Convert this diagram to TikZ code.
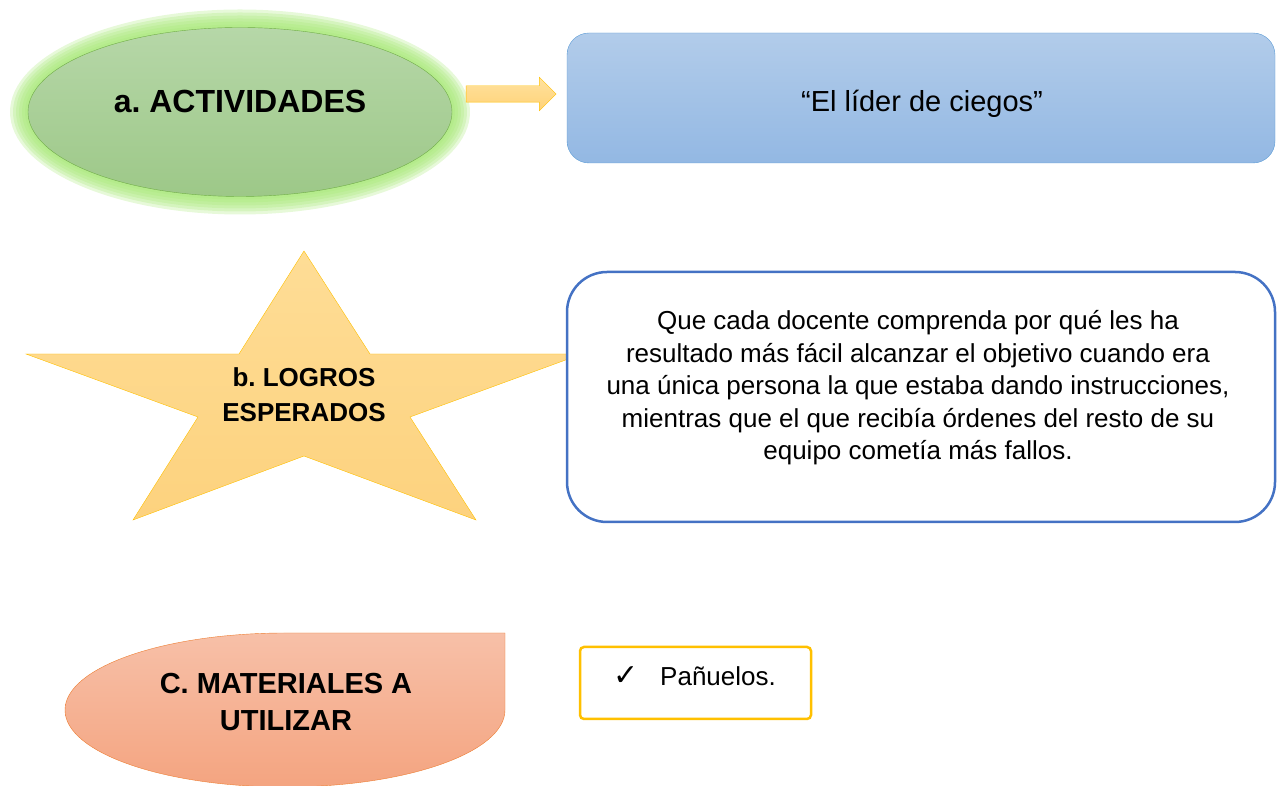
\documentclass[tikz,border=0pt]{standalone}
\usepackage{fontspec}
\setmainfont{Liberation Sans}
\newfontfamily\symfont{DejaVu Sans}
\usetikzlibrary{shapes.geometric,shapes.arrows}
\frenchspacing

\definecolor{actline}{HTML}{70AD47}
\definecolor{acttop}{HTML}{B6D7A8}
\definecolor{actbot}{HTML}{9DC888}
\definecolor{actglow}{HTML}{A8E878}
\definecolor{arrline}{HTML}{FFC000}
\definecolor{arrtop}{HTML}{FFE29E}
\definecolor{arrbot}{HTML}{FFD278}
\definecolor{boxline}{HTML}{5B9BD5}
\definecolor{boxtop}{HTML}{B2CCEA}
\definecolor{boxbot}{HTML}{93B8E3}
\definecolor{startop}{HTML}{FEDD96}
\definecolor{starbot}{HTML}{FDD27E}
\definecolor{logline}{HTML}{4472C4}
\definecolor{matline}{HTML}{ED7D31}
\definecolor{mattop}{HTML}{F7C0A8}
\definecolor{matbot}{HTML}{F4A480}

\tikzset{
    title/.style 2 args={font=\fontsize{#1}{#2}\selectfont\bfseries, align=center},
    body/.style={font=\fontsize{#1}{32.5}\selectfont, align=center},
}

\begin{document}
\begin{tikzpicture}[x=1pt,y=1pt]
    \useasboundingbox (0,0) rectangle (1277,786);
    % Glow round the first ellipse
    \foreach \g in {18,15,...,3} {
            \fill[actglow, opacity=0.28] (240,674) ellipse ({212+\g} and {84.5+\g});
        }
    % Activities
    \node[ellipse, draw=actline, top color=acttop, bottom color=actbot,
        minimum width=424pt, minimum height=169pt, inner sep=0pt] (act) at (240,674) {};
    \node[title={32}{38}] (acttext) at (240,685) {a. ACTIVIDADES};
    \node[single arrow, draw=arrline, top color=arrtop, bottom color=arrbot,
        minimum height=90pt, inner sep=0pt, inner ysep=8pt,
        single arrow head extend=8.5pt, single arrow tip angle=90] (arr) at (507,692) {};
    \node[draw=boxline, rounded corners=22pt, top color=boxtop, bottom color=boxbot,
        minimum width=708pt, minimum height=130pt] (actbox) at (921,688) {};
    \node[body=29] (actboxtext) at (922,682) {“El líder de ciegos”};
    % Draw the star
    \foreach \x/\y [count=\i] in {304/535,370/432,582/432,410/369,476/266,
            304/330,133/266,198/369,26/432,239/432} {
            \coordinate (S\i) at (\x,\y);
        }
    \draw[arrline, top color=startop, bottom color=starbot]
    (S1) \foreach \i in {2,...,10} {-- (S\i)} -- cycle;
    \node[title={26}{35}] (logros) at (304,391) {b. LOGROS\\ESPERADOS};
    \node[draw=logline, line width=2.5pt, rounded corners=40pt, fill=white,
        minimum width=708pt, minimum height=250pt] (logrosbox) at (921,389) {};
    \node[body=26] (logrostext) at (918,398) {Que cada docente comprenda por qué les ha\\
        resultado más fácil alcanzar el objetivo cuando era\\
        una única persona la que estaba dando instrucciones,\\
        mientras que el que recibía órdenes del resto de su\\
        equipo cometía más fallos.};
    % Materials
    \draw[matline, top color=mattop, bottom color=matbot]
    (505,153) -- (505,76) arc[start angle=0, end angle=-270, x radius=220, y radius=77] -- cycle;
    \node[title={29}{37}] (mat) at (286,84) {C. MATERIALES A\\UTILIZAR};
    \node[draw=arrline, line width=2.5pt, rounded corners=4pt,
        minimum width=231pt, minimum height=72pt] (matbox) at (695.5,103) {};
    \node[anchor=west, font=\fontsize{26}{30}\selectfont, inner sep=0pt] (mattext) at (613,110)
    {\makebox[47pt][l]{\symfont\fontsize{30}{30}\selectfont ✓}Pañuelos.};
\end{tikzpicture}
\end{document}
